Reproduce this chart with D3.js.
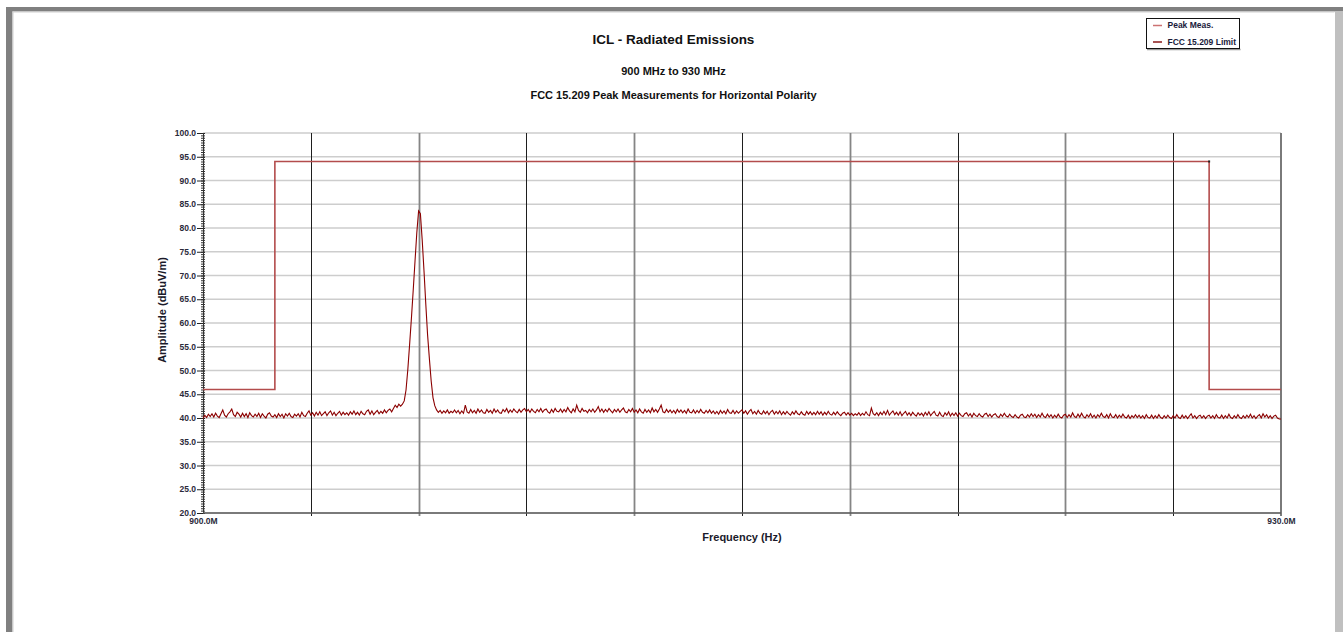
<!DOCTYPE html>
<html>
<head>
<meta charset="utf-8">
<script src="https://cdn.jsdelivr.net/npm/d3@7"></script>
<style>
	body { margin: 0; background: #fff; }
	svg { display: block; font-family: Arial, 'Liberation Sans', sans-serif; }
	.title { font-size: 13.5px; font-weight: bold; fill: #111; text-anchor: middle; }
	.subtitle { font-size: 11px; font-weight: bold; fill: #111; text-anchor: middle; }
	.axis-label { font-size: 11px; font-weight: bold; fill: #1a1a2a; text-anchor: middle; }
	.tick text { font-size: 8.5px; font-weight: bold; fill: #2a2a3a; font-family: Arial, 'Liberation Sans', sans-serif; }
	.legend text { font-size: 8.5px; font-weight: bold; fill: #1a1a3a; }
</style>
</head>
<body>
<svg width="1343" height="632"></svg>
<script>
const titleLines = ['ICL - Radiated Emissions', '900 MHz to 930 MHz', 'FCC 15.209 Peak Measurements for Horizontal Polarity'];
const xTitle = 'Frequency (Hz)';
const yTitle = 'Amplitude (dBuV/m)';
const legendLabels = ['Peak Meas.', 'FCC 15.209 Limit'];

const yTicks = [20, 25, 30, 35, 40, 45, 50, 55, 60, 65, 70, 75, 80, 85, 90, 95, 100];
const xTickValues = [900, 930];
const xTickLabels = ['900.0M', '930.0M'];
const gridMHz = [903, 906, 909, 912, 915, 918, 921, 924, 927];

// FCC limit (dBuV/m)
const limitMHz = [900, 902, 902, 928, 928, 930];
const limitDb = [46.0, 46.0, 94.0, 94.0, 46.0, 46.0];

// peak trace, one value every 50 kHz from 900 MHz
const sweepStartMHz = 900;
const sweepStepMHz = 0.05;
const peakDb = [
	39.9, 40.6, 40.1, 40.8, 40.3, 40.9, 40.2, 41.0, 40.4, 40.1, 40.9, 41.7, 40.6, 40.2, 40.9, 41.3, 41.9, 40.7, 40.3, 41.2,
	40.8, 40.2, 41.0, 40.3, 40.9, 40.1, 41.1, 40.5, 40.2, 40.8, 40.3, 41.0, 40.1, 40.9, 40.4, 40.0, 40.8, 41.1, 40.4, 40.2,
	40.7, 40.1, 40.9, 40.3, 40.8, 40.0, 40.9, 40.4, 41.0, 40.3, 40.1, 40.8, 40.4, 40.9, 40.2, 41.2, 40.5, 40.3, 41.0, 41.5,
	40.6, 41.1, 40.4, 41.2, 40.6, 41.3, 40.5, 40.9, 41.3, 40.5, 41.1, 41.5, 40.6, 41.2, 40.5, 41.0, 41.4, 40.6, 41.2, 40.7,
	41.1, 40.6, 41.3, 40.8, 41.5, 40.7, 41.2, 40.6, 41.4, 40.9, 40.7, 41.4, 41.7, 40.8, 41.5, 40.7, 41.2, 41.6, 40.9, 41.4,
	41.0, 41.7, 41.1, 41.6, 41.9, 41.3, 42.0, 42.7, 42.2, 42.9, 42.5, 42.9, 43.6, 45.9, 50.2, 55.5, 61.0, 66.9, 73.0, 79.0,
	83.6, 83.0, 77.5, 71.0, 64.0, 57.5, 52.5, 47.8, 44.3, 42.6, 41.7, 41.2, 41.6, 41.0, 41.5, 41.1, 41.7, 41.0, 41.4, 41.1,
	41.7, 41.1, 41.6, 40.9, 41.5, 41.0, 42.7, 41.3, 41.0, 41.8, 41.1, 41.6, 41.0, 41.9, 41.2, 41.7, 41.1, 41.0, 41.8, 41.2,
	41.6, 41.0, 41.9, 41.2, 41.7, 41.1, 41.0, 41.8, 41.3, 42.0, 41.1, 41.7, 41.2, 41.9, 41.4, 41.1, 41.8, 41.2, 41.7, 42.0,
	41.3, 41.8, 41.2, 41.9, 41.4, 41.1, 41.8, 41.3, 42.0, 41.2, 41.7, 41.9, 41.3, 41.0, 41.8, 41.2, 42.0, 41.4, 41.3, 41.9,
	41.2, 41.8, 41.3, 42.2, 41.5, 41.1, 41.9, 41.3, 42.7, 41.6, 41.2, 42.0, 41.4, 41.6, 41.1, 41.8, 41.3, 41.9, 41.2, 41.7,
	42.4, 41.3, 41.9, 41.2, 41.8, 41.3, 42.0, 41.5, 41.1, 41.8, 41.3, 41.9, 41.2, 41.7, 42.1, 41.3, 41.1, 41.8, 41.3, 42.0,
	41.2, 41.7, 41.1, 41.9, 41.3, 41.0, 41.8, 41.2, 41.7, 41.1, 42.1, 41.3, 41.8, 41.2, 41.9, 42.7, 41.3, 41.1, 41.8, 41.2,
	41.7, 41.1, 41.6, 41.0, 41.8, 41.2, 41.7, 41.1, 41.6, 41.0, 41.9, 41.2, 41.1, 41.7, 41.0, 41.6, 41.1, 41.8, 41.2, 41.0,
	41.6, 41.1, 41.7, 41.0, 41.5, 40.9, 41.4, 40.8, 41.6, 41.0, 41.5, 40.9, 41.8, 41.1, 41.0, 41.6, 40.9, 41.5, 41.0, 41.4,
	41.7, 41.0, 41.5, 40.8, 41.4, 41.8, 40.9, 41.4, 40.8, 41.6, 41.0, 40.8, 41.5, 40.9, 41.4, 40.7, 41.3, 41.6, 40.8, 41.4,
	40.9, 41.5, 40.7, 41.3, 40.8, 41.4, 40.9, 40.6, 41.3, 40.8, 41.5, 40.9, 40.7, 41.3, 40.8, 40.6, 41.4, 40.8, 41.3, 40.7,
	41.2, 40.7, 41.4, 40.8, 41.3, 40.6, 41.2, 40.7, 41.4, 40.8, 40.6, 41.2, 40.7, 41.3, 40.8, 40.5, 41.0, 41.2, 40.6, 41.1,
	40.6, 41.0, 40.5, 40.9, 40.6, 41.1, 40.5, 41.0, 40.6, 41.3, 40.7, 40.5, 42.1, 40.9, 40.6, 41.1, 40.5, 41.2, 40.7, 41.4,
	40.7, 41.6, 40.6, 41.1, 41.5, 40.7, 41.2, 40.6, 41.3, 40.5, 41.0, 41.4, 40.6, 41.1, 40.5, 41.2, 40.7, 40.4, 41.1, 40.6,
	41.0, 40.4, 41.2, 40.6, 41.3, 40.5, 41.0, 41.4, 40.6, 40.4, 41.2, 40.5, 40.3, 41.1, 40.6, 41.3, 40.4, 41.0, 40.5, 41.1,
	40.4, 41.0, 40.5, 40.3, 40.9, 41.1, 40.4, 40.9, 40.2, 41.0, 40.5, 40.3, 40.9, 40.4, 40.2, 40.8, 41.0, 40.3, 40.8, 40.2,
	40.7, 40.9, 40.3, 40.1, 40.8, 40.3, 41.0, 40.4, 40.2, 40.8, 40.3, 40.1, 40.7, 40.2, 40.0, 40.6, 40.8, 40.2, 40.1, 40.7,
	40.2, 40.9, 40.3, 40.8, 40.1, 40.7, 40.2, 41.0, 40.3, 40.1, 40.8, 40.2, 40.7, 40.0, 40.6, 40.1, 40.8, 40.2, 40.0, 40.6,
	40.8, 40.1, 40.7, 40.2, 41.1, 40.3, 40.1, 40.8, 40.2, 41.0, 40.3, 40.0, 40.7, 40.2, 40.9, 40.1, 40.6, 40.0, 40.7, 40.2,
	41.0, 40.3, 40.1, 40.7, 40.0, 40.9, 40.2, 40.1, 40.7, 40.0, 40.6, 40.1, 40.8, 40.2, 40.0, 40.6, 39.9, 40.5, 40.1, 40.7,
	40.1, 40.6, 40.0, 40.5, 39.9, 40.7, 40.1, 40.0, 40.6, 39.9, 40.5, 40.0, 40.7, 40.1, 39.9, 40.5, 40.0, 40.6, 40.1, 39.9,
	40.5, 40.0, 40.7, 40.1, 39.9, 40.6, 40.0, 40.5, 39.9, 40.4, 40.9, 40.0, 40.5, 39.9, 40.4, 40.6, 40.0, 40.5, 39.9, 40.4,
	40.6, 40.0, 40.5, 39.9, 40.7, 40.1, 40.0, 40.6, 39.9, 40.5, 40.0, 40.8, 40.1, 39.9, 40.5, 40.0, 40.7, 40.1, 39.9, 40.5,
	40.0, 40.6, 40.1, 40.8, 40.0, 40.5, 39.9, 40.4, 40.7, 40.0, 40.9, 40.2, 40.7, 40.0, 40.5, 39.9, 40.4, 40.6, 40.0, 39.8,
	39.8,
];

const svg = d3.select('svg');

const width = +svg.attr('width');
const height = +svg.attr('height');

const margin = { top: 133, right: 62, bottom: 119, left: 203 };
const innerWidth = width - margin.left - margin.right;
const innerHeight = height - margin.top - margin.bottom;

// window frame
svg.append('rect').attr('x', 6).attr('y', 7).attr('width', width - 6).attr('height', 4.5).attr('fill', '#808080');
svg.append('rect').attr('x', 6).attr('y', 7).attr('width', 6.5).attr('height', height - 7).attr('fill', '#808080');
svg.append('rect').attr('x', 12.5).attr('y', 11.5).attr('width', 1322).attr('height', 1).attr('fill', '#d0d0d0');
svg.append('rect').attr('x', 12.5).attr('y', 11.5).attr('width', 1).attr('height', height - 11.5).attr('fill', '#d0d0d0');
svg.append('rect').attr('x', 1335).attr('y', 11.5).attr('width', 8).attr('height', height - 11.5).attr('fill', '#c0c0c0');

// titles
const titleY = [43.5, 74.5, 98.5];
svg.selectAll('.head')
	.data(titleLines)
	.join('text')
	.attr('class', (d, i) => (i === 0 ? 'title' : 'subtitle'))
	.attr('x', width / 2 + 2)
	.attr('y', (d, i) => titleY[i])
	.text(d => d);

const xScale = d3.scaleLinear().domain([900, 930]).range([0, innerWidth]);
const yScale = d3.scaleLinear().domain([20, 100]).range([innerHeight, 0]);

const g = svg.append('g').attr('transform', `translate(${margin.left},${margin.top})`);

// horizontal grid
g.selectAll('.hgrid')
	.data(yTicks)
	.join('line')
	.attr('class', 'hgrid')
	.attr('x1', 0)
	.attr('x2', innerWidth)
	.attr('y1', d => yScale(d))
	.attr('y2', d => yScale(d))
	.attr('stroke', '#cdcdcd')
	.attr('stroke-width', 1.5);

// vertical grid
g.selectAll('.vgrid')
	.data(gridMHz)
	.join('line')
	.attr('class', 'vgrid')
	.attr('x1', d => Math.round(xScale(d)) + 0.5)
	.attr('x2', d => Math.round(xScale(d)) + 0.5)
	.attr('y1', 0)
	.attr('y2', innerHeight + 3)
	.attr('stroke', (d, i) => (i % 2 ? '#858585' : '#1e1e1e'))
	.attr('stroke-width', (d, i) => (i % 2 ? 1.8 : 1));

// right border of plot
g.append('line')
	.attr('x1', innerWidth)
	.attr('x2', innerWidth)
	.attr('y1', 0)
	.attr('y2', innerHeight + 3)
	.attr('stroke', '#7a7a7a')
	.attr('stroke-width', 2);

// y axis: minor ticks
const minorAxis = d3.axisLeft(yScale).tickValues(d3.range(20, 100.01, 0.5)).tickSize(4).tickFormat('');
const minorG = g.append('g').attr('transform', 'translate(2,0)').call(minorAxis);
minorG.select('.domain').remove();
minorG.selectAll('line').attr('stroke', '#333');

// y axis: major ticks and labels
const yAxis = d3.axisLeft(yScale).tickValues(yTicks).tickSize(8).tickPadding(1).tickFormat(d3.format('.1f'));
const yAxisG = g.append('g').attr('transform', 'translate(2,0)').call(yAxis);
yAxisG.select('.domain').remove();
yAxisG.selectAll('line').attr('stroke', '#222');

g.append('line').attr('x1', 0.5).attr('x2', 0.5).attr('y1', 0).attr('y2', innerHeight).attr('stroke', '#333');

// x axis
const xAxis = d3.axisBottom(xScale).tickValues(xTickValues).tickSize(0).tickPadding(5).tickFormat((d, i) => xTickLabels[i]);
const xAxisG = g.append('g').attr('transform', `translate(0,${innerHeight})`).call(xAxis);
xAxisG.select('.domain').remove();

g.append('line').attr('x1', 0).attr('x2', innerWidth).attr('y1', innerHeight).attr('y2', innerHeight).attr('stroke', '#5a5a5a').attr('stroke-width', 1.3);

// axis titles
g.append('text')
	.attr('class', 'axis-label')
	.attr('x', innerWidth / 2)
	.attr('y', innerHeight + 27.5)
	.text(xTitle);

g.append('text')
	.attr('class', 'axis-label')
	.attr('transform', `translate(-37,${innerHeight / 2 - 13}) rotate(-90)`)
	.text(yTitle);

// limit line
const lineGenerator = d3
	.line()
	.x(d => xScale(d[0]))
	.y(d => yScale(d[1]));

const limitPoints = d3.zip(limitMHz, limitDb);
g.append('path')
	.attr('d', lineGenerator(limitPoints))
	.attr('fill', 'none')
	.attr('stroke', '#b34c4c')
	.attr('stroke-width', 1.6);

g.append('rect')
	.attr('x', xScale(limitMHz[3]) - 1)
	.attr('y', yScale(limitDb[3]) - 1)
	.attr('width', 2)
	.attr('height', 2)
	.attr('fill', '#222');

// peak trace
const tracePoints = peakDb.map((v, i) => [sweepStartMHz + i * sweepStepMHz, v]);
g.append('path')
	.attr('d', lineGenerator(tracePoints))
	.attr('fill', 'none')
	.attr('stroke', '#8b0000')
	.attr('stroke-width', 1.1);

// legend
const legendColors = ['#cc7272', '#8b1a1a'];
const legendG = svg.append('g').attr('class', 'legend').attr('transform', 'translate(1146.5,18.5)');
legendG.append('line').attr('x1', 0.5).attr('x2', 94).attr('y1', 31).attr('y2', 31).attr('stroke', '#9a9a9a').attr('stroke-width', 1.5);
legendG.append('rect').attr('width', 93).attr('height', 30).attr('fill', '#fff').attr('stroke', '#111');

const items = legendG
	.selectAll('.item')
	.data(legendLabels)
	.join('g')
	.attr('class', 'item')
	.attr('transform', (d, i) => `translate(0,${7 + i * 16.5})`);

items.append('line').attr('x1', 6.5).attr('x2', 15.5).attr('stroke', (d, i) => legendColors[i]).attr('stroke-width', 1.5);
items.append('text').attr('x', 21).attr('dy', '0.35em').text(d => d);
</script>
</body>
</html>
